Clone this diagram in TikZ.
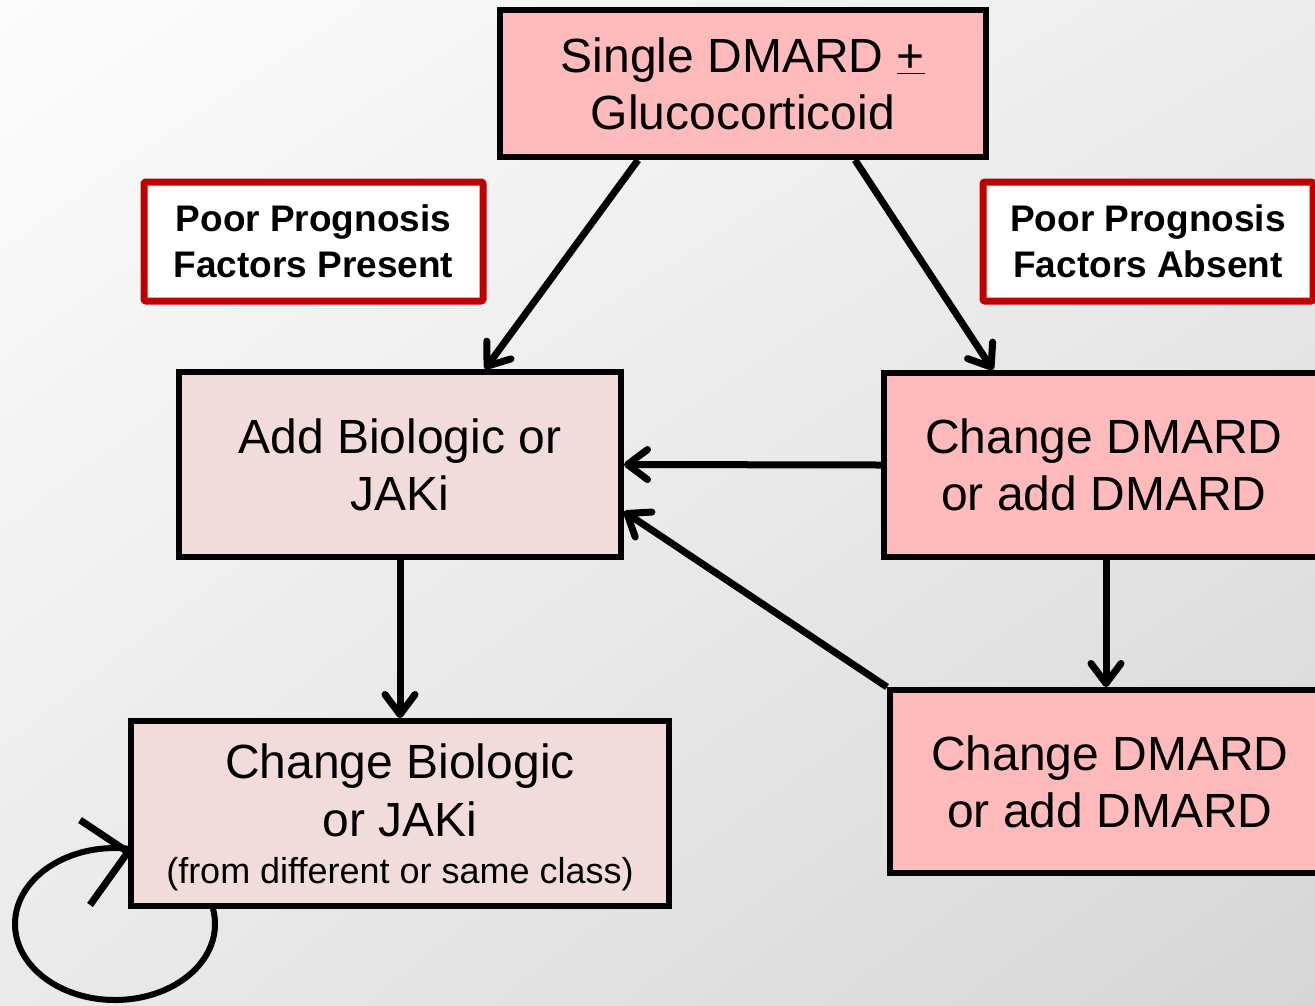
\documentclass[tikz,border=0pt]{standalone}
\usepackage{fontspec}
\setmainfont{Liberation Sans}
\usetikzlibrary{arrows.meta,shapes.geometric,shadings}
\definecolor{pinkdark}{RGB}{255,187,187}
\definecolor{pinklight}{RGB}{242,220,219}
\definecolor{redborder}{RGB}{192,0,0}
\definecolor{bgul}{RGB}{252,252,252}
\definecolor{bgur}{RGB}{236,236,236}
\definecolor{bgll}{RGB}{234,234,234}
\definecolor{bglr}{RGB}{214,214,214}
\tikzset{
  box/.style={draw=black, line width=6pt, align=center, inner sep=0pt,
    font=\fontsize{48}{57}\selectfont},
  darkbox/.style={box, fill=pinkdark},
  lightbox/.style={box, fill=pinklight},
  plaintext/.style={align=center, inner sep=0pt, font=\fontsize{48}{58}\selectfont},
  labelbox/.style={draw=redborder, fill=white, line width=7pt, align=center,
    inner sep=0pt, rounded corners=2pt, font=\bfseries\fontsize{37}{46}\selectfont},
  conn/.style={line width=7pt, -{Straight Barb[length=20pt,width=30pt,round]}},
}
\begin{document}
\begin{tikzpicture}[x=1pt,y=-1pt]
\useasboundingbox (0,0) rectangle (1315,1005);
\clip (0,0) rectangle (1315,1005);
\shade[upper left=bgul, upper right=bgur, lower left=bgll, lower right=bglr] (0,0) rectangle (1315,1005);

% loop behind the box
\node[ellipse, draw, line width=6pt, minimum width=200pt, minimum height=152pt, inner sep=0pt] (loop) at (115,924) {};

\node[darkbox, minimum width=486pt, minimum height=147pt] (top) at (743,83.5)
  {Single DMARD \underline{+}\\Glucocorticoid};
\node[labelbox, minimum width=339pt, minimum height=119pt] (lp) at (313.5,241.5)
  {Poor Prognosis\\Factors Present};
\node[labelbox, minimum width=330pt, minimum height=119pt] (la) at (1148,241.5)
  {Poor Prognosis\\Factors Absent};
\node[lightbox, minimum width=442pt, minimum height=185pt] (add) at (400,464.5)
  {Add Biologic or\\JAKi};
\node[darkbox, minimum width=440pt, minimum height=184pt] (cdm1) at (1104,465)
  {Change DMARD\\or add DMARD};
\node[darkbox, minimum width=440pt, minimum height=183pt] (cdm2) at (1110,781.5)
  {Change DMARD\\or add DMARD};
\node[lightbox, minimum width=538pt, minimum height=185pt] (cbio) at (400,813.5) {};
\node[plaintext] (cbiotext) at (400,817)
  {Change Biologic\\or JAKi\\[-11pt]{\fontsize{36}{40}\selectfont (from different or same class)}};

\draw[conn] ([xshift=-105pt]top.south) -- ([xshift=85pt]add.north);
\draw[conn] ([xshift=112pt]top.south) -- ([xshift=-111pt]cdm1.north);
\draw[conn] (cdm1.west) -- (add.east);
\draw[conn] (cdm2.north west) -- ([yshift=-47pt]add.east);
\draw[conn] (add.south) -- (cbio.north);
\draw[conn] ([xshift=2pt]cdm1.south) -- ([xshift=2pt]cdm1.south |- cdm2.north);

\coordinate (ch1) at (80,820);
\coordinate (ch2) at (90,905);
\draw[line width=7pt] (ch1) -- ([yshift=-38.5pt]cbio.west) -- (ch2);
\end{tikzpicture}
\end{document}
